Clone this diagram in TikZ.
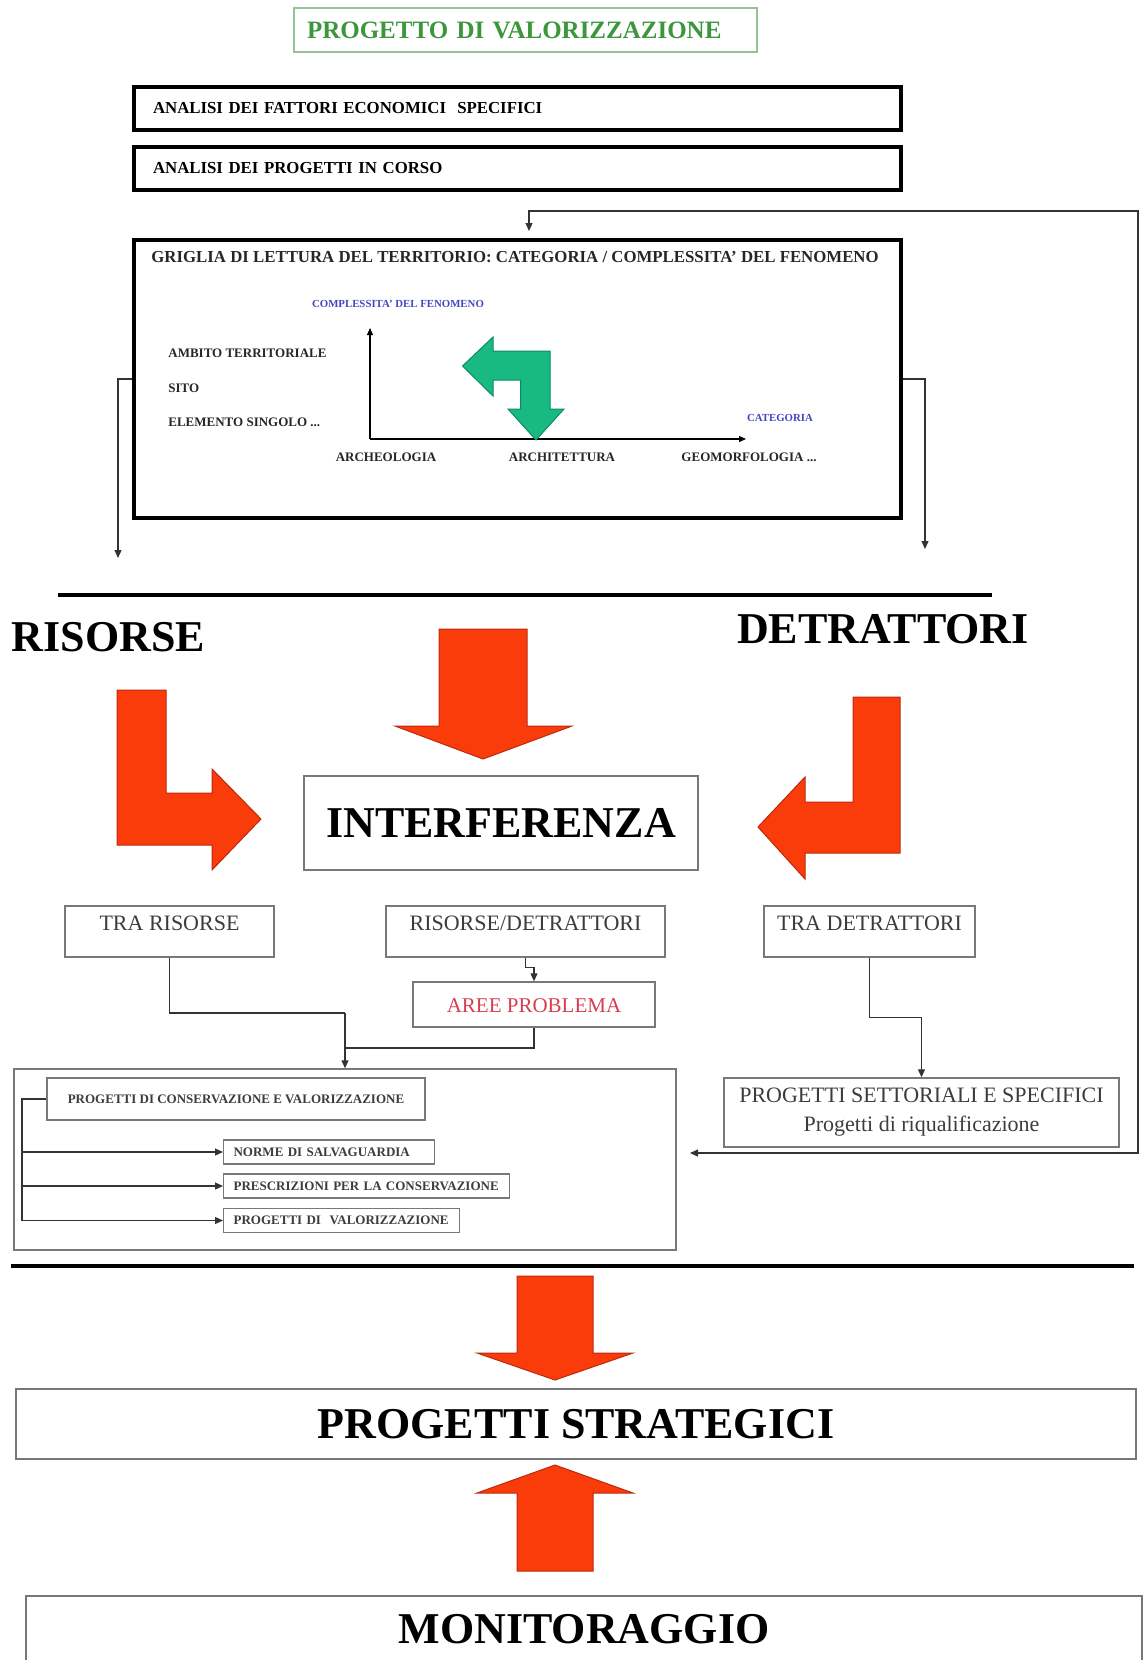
\documentclass[tikz,border=0pt]{standalone}
\usepackage{fontspec}
\setmainfont{Liberation Serif}
\usepackage{tikz}
\usetikzlibrary{arrows.meta}

\definecolor{titlegreen}{RGB}{60,150,60}
\definecolor{titleframe}{RGB}{150,195,150}
\definecolor{axisblue}{RGB}{70,70,190}
\definecolor{arrowred}{RGB}{250,60,10}
\definecolor{arrowredline}{RGB}{190,40,15}
\definecolor{arrowgreen}{RGB}{25,185,130}
\definecolor{arrowgreenline}{RGB}{10,140,100}
\definecolor{problemred}{RGB}{215,60,80}
\definecolor{boxgray}{RGB}{120,120,120}
\definecolor{textgray}{RGB}{60,60,60}

\begin{document}
\begin{tikzpicture}[
  x=0.5pt, y=-0.5pt,
  head/.style={draw=titleframe, line width=0.6pt, minimum width=231.5pt, minimum height=22pt,
               text width=218.5pt, inner xsep=6.5pt, align=left, text=titlegreen,
               font=\fontsize{12.5}{15}\selectfont\bfseries},
  anbox/.style={draw, line width=1.6pt, minimum width=383.5pt, minimum height=21.5pt,
                text width=364.5pt, inner xsep=9.5pt, inner ysep=0pt, align=left,
                font=\fontsize{8.4}{10}\selectfont\bfseries},
  gridbox/.style={draw, line width=1.6pt, minimum width=383.5pt, minimum height=139pt},
  gridtxt/.style={font=\fontsize{6.5}{8}\selectfont\bfseries, text=black!85, inner sep=0pt},
  axislbl/.style={font=\fontsize{5.4}{7}\selectfont\bfseries, text=axisblue, inner sep=0pt},
  axis/.style={-{Triangle[length=3.5pt,width=3pt]}, line width=0.6pt},
  conn/.style={line width=0.6pt, draw=black!80},
  arr/.style={conn, -{Triangle[length=4pt,width=3.5pt]}},
  bigtxt/.style={font=\fontsize{22}{26}\selectfont\bfseries, inner sep=0pt},
  bigbox/.style={draw=boxgray, line width=0.7pt, font=\fontsize{22}{26}\selectfont\bfseries},
  rowbox/.style={draw=boxgray, line width=0.7pt, text=textgray, font=\fontsize{11}{14.5}\selectfont,
                 inner ysep=4.5pt, text height=7.5pt, text depth=9pt},
  subbox/.style={draw=boxgray, line width=0.6pt, font=\fontsize{6.5}{8}\selectfont\bfseries,
                 text=textgray, inner xsep=5pt, inner ysep=0pt, minimum height=12pt,
                 align=left, anchor=west},
  redarrow/.style={fill=arrowred, draw=arrowredline, line width=0.5pt},
  greenarrow/.style={fill=arrowgreen, draw=arrowgreenline, line width=0.5pt}
]

%
%  Layout (pixels, y down):
%
%     [title] / [analisi x2] / [griglia]
%     ------------------------------------
%     RISORSE     => INTERFERENZA <=     DETRATTORI
%     [tra ris.]  [ris./detr.]  [tra detr.]
%                 [aree probl.]
%     [conservazione ...]       [settoriali]
%     ------------------------------------
%     [progetti strategici] <= [monitoraggio]
%
\useasboundingbox (0,0) rectangle (1143,1660);

% --- HEADER ---
\node[head] (title) at (525.5,30) {PROGETTO DI VALORIZZAZIONE};
\node[anbox] (econ)  at (517.5,108.5) {ANALISI DEI FATTORI ECONOMICI\ \ SPECIFICI};
\node[anbox] (corso) at (517.5,168.5) {ANALISI DEI PROGETTI IN CORSO};

% --- GRIGLIA ---
\node[gridbox] (grid) at (517.5,379) {};
\node[gridtxt, anchor=west, font=\fontsize{8.4}{10}\selectfont\bfseries]
      (gridtitle) at (151,257)
      {GRIGLIA DI LETTURA DEL TERRITORIO: CATEGORIA / COMPLESSITA' DEL FENOMENO};

\coordinate (origin) at (370,439);
\coordinate (ytip)   at (370,328);
\coordinate (xtip)   at (746,439);
\draw[axis] (origin) -- (ytip);
\draw[axis] (origin) -- (xtip);

\node[axislbl] (complex)  at (398,304) {COMPLESSITA' DEL FENOMENO};
\node[axislbl] (category) at (780,418) {CATEGORIA};

\node[gridtxt, anchor=west] (ambito)   at (168,353) {AMBITO TERRITORIALE};
\node[gridtxt, anchor=west] (sito)     at (168,388) {SITO};
\node[gridtxt, anchor=west] (elemento) at (168,422) {ELEMENTO SINGOLO ...};

\node[gridtxt] (archeo)  at (386,457) {ARCHEOLOGIA};
\node[gridtxt] (archi)   at (562,457) {ARCHITETTURA};
\node[gridtxt] (geomorf) at (749,457) {GEOMORFOLOGIA ...};

% bent green arrow
\draw[greenarrow] (462.5,366) -- (493,337) -- (493,351) -- (550,351) -- (550,409)
  -- (564,409) -- (536,440) -- (508,409) -- (520.5,409) -- (520.5,380)
  -- (493,380) -- (493,396) -- cycle;

% griglia -> risorse / detrattori
\coordinate (risin) at (118,558);
\coordinate (detin) at (925,549);
\draw[arr] (grid.west) -| (risin);
\draw[arr] (grid.east) -| (detin);

% feedback loop, right side
\coordinate (fbtop)    at (529,231);
\coordinate (fbcorner) at (1138,211);
\coordinate (fbend)    at (690,1153);
\draw[conn, {Triangle[length=4pt,width=3.5pt]}-{Triangle[length=4pt,width=3.5pt]}]
      (fbend) -| (fbcorner) -| (fbtop);

\draw[line width=2.4pt] (58,595) -- (992,595);

% --- RISORSE / DETRATTORI ---
\node[bigtxt] (risorse)    at (108.5,637) {RISORSE};
\node[bigtxt] (detrattori) at (883,629)   {DETRATTORI};

\draw[redarrow] (117,690) -- (166,690) -- (166,793) -- (212,793) -- (212,769)
  -- (261,819) -- (212,870) -- (212,845) -- (117,845) -- cycle;
\draw[redarrow] (900,697) -- (853,697) -- (853,802) -- (805,802) -- (805,777)
  -- (758,827) -- (805,879) -- (805,853) -- (900,853) -- cycle;
\draw[redarrow] (439,629) -- (527,629) -- (527,726) -- (572,726) -- (483,759)
  -- (395,726) -- (439,726) -- cycle;

\node[bigbox, minimum width=197pt, minimum height=47pt] (interf) at (501,823) {INTERFERENZA};

% --- INTERFERENZE ---
\node[rowbox, minimum width=104.5pt] (trarisorse) at (169.5,931.5) {TRA RISORSE};
\node[rowbox, minimum width=139.5pt] (risdet)     at (525.5,931.5) {RISORSE/DETRATTORI};
\node[rowbox, minimum width=105.5pt] (tradet)     at (869.5,931.5) {TRA DETRATTORI};
\node[rowbox, text=problemred, minimum width=121pt, minimum height=22.5pt, text depth=0pt,
      inner ysep=0pt, font=\fontsize{10.5}{13}\selectfont] (aree) at (534,1004.5) {AREE PROBLEMA};

% --- CONSERVAZIONE ---
\node[draw=boxgray, line width=0.7pt, minimum width=331pt, minimum height=90.5pt]
      (cons) at (345,1159.5) {};
\node[subbox, anchor=center, minimum width=189pt, minimum height=21pt, align=center]
      (consvalo) at (236,1099) {PROGETTI DI CONSERVAZIONE E VALORIZZAZIONE};
\node[subbox, text width=95.5pt] (norme)   at (223,1152)   {NORME DI SALVAGUARDIA};
\node[subbox, text width=133pt]  (presc)   at (223,1186)   {PRESCRIZIONI PER LA CONSERVAZIONE};
\node[subbox, text width=108pt]  (progval) at (223,1220.5) {PROGETTI DI\ \ VALORIZZAZIONE};

\coordinate (trunk) at (22,1099);
\draw[conn] (consvalo.west) -- (trunk) -- (trunk |- progval.west);
\foreach \s in {norme, presc, progval}
  \draw[arr] (trunk |- \s.west) -- (\s.west);

% --- SETTORIALI ---
\node[draw=boxgray, line width=0.7pt, text=textgray, font=\fontsize{11}{14.5}\selectfont,
      align=center, minimum width=197.5pt, minimum height=34.5pt, inner sep=2pt]
      (settoriali) at (921.5,1112.5) {PROGETTI SETTORIALI E SPECIFICI\\Progetti di riqualificazione};

% ---- Connections ----
\coordinate (join)  at (345,1013);
\coordinate (merge) at (345,1048);
\draw[arr]  (risdet.south) -- ++(0,10) -| (aree.north);
\draw[conn] (trarisorse.south) |- (join);
\draw[conn] (aree.south) |- (merge);
\draw[arr]  (join) -- (cons.north);
\draw[arr]  (tradet.south) -- ++(0,60) -| (settoriali.north);

\draw[line width=2.4pt] (11,1266) -- (1134,1266);

% --- STRATEGICI / MONITORAGGIO ---
\draw[redarrow] (517,1276) -- (593,1276) -- (593,1353) -- (633,1353) -- (555,1380)
  -- (477,1353) -- (517,1353) -- cycle;
\node[bigbox, minimum width=560pt, minimum height=35pt] (strategici) at (576,1424) {PROGETTI STRATEGICI};
\draw[redarrow] (517,1571) -- (593,1571) -- (593,1493) -- (633,1493) -- (555,1465)
  -- (477,1493) -- (517,1493) -- cycle;
\node[bigbox, minimum width=558pt, minimum height=33pt] (monitor) at (584,1629) {MONITORAGGIO};

\end{tikzpicture}
\end{document}
